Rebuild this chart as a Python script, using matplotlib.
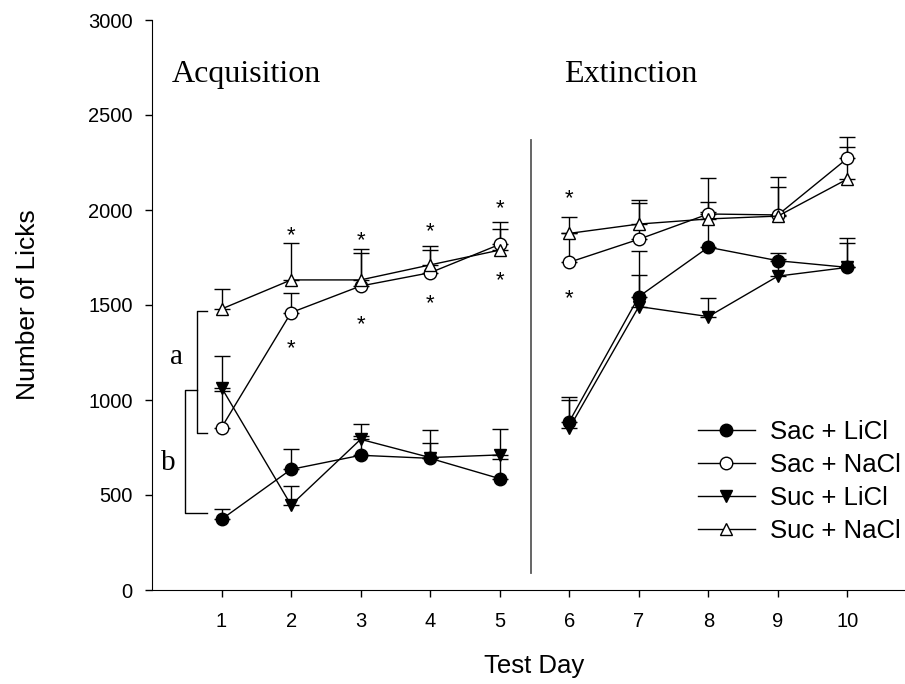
import numpy as np
import matplotlib
matplotlib.use('Agg')
import matplotlib.pyplot as plt

plt.rcParams['font.family'] = ['Liberation Sans', 'DejaVu Sans']

# 数据
days = [1, 2, 3, 4, 5, 6, 7, 8, 9, 10]
sac_licl = [372, 635, 709, 693, 586, 886, 1544, 1804, 1733, 1698]
sac_licl_sem = [53, 107, 101, 79, 104, 114, 240, 186, 39, 127]
sac_nacl = [855, 1460, 1600, 1670, 1819, 1725, 1846, 1979, 1974, 2272]
sac_nacl_sem = [190, 101, 175, 119, 119, 155, 192, 187, 198, 113]
suc_licl = [1065, 447, 793, 697, 711, 852, 1492, 1439, 1652, 1698]
suc_licl_sem = [168, 100, 79, 145, 136, 162, 166, 96, 88, 153]
suc_nacl = [1479, 1632, 1632, 1711, 1789, 1877, 1926, 1953, 1968, 2163]
suc_nacl_sem = [104, 193, 161, 99, 109, 84, 127, 91, 155, 167]

# 星号位置 (day, y)
star_days = [2, 2, 3, 3, 4, 4, 5, 5, 6, 6]
star_y = [1900, 1307, 1877, 1433, 1921, 1544, 2044, 1667, 2097, 1570]

groups = [
    ('Sac + LiCl', sac_licl, sac_licl_sem, 'o', 'black'),
    ('Sac + NaCl', sac_nacl, sac_nacl_sem, 'o', 'white'),
    ('Suc + LiCl', suc_licl, suc_licl_sem, 'v', 'black'),
    ('Suc + NaCl', suc_nacl, suc_nacl_sem, '^', 'white'),
]

fig = plt.figure(figsize=(9.05, 6.84), dpi=100)
ax = fig.add_axes([152 / 905, 94 / 684, (917 - 152) / 905, 570 / 684])

x = np.array(days)
for label, mean, sem, mk, fc in groups:
    mean = np.array(mean)
    sem = np.array(sem)
    for seg in (slice(0, 5), slice(5, 10)):
        ax.errorbar(x[seg], mean[seg], yerr=[np.zeros(5), sem[seg]],
                    fmt='none', ecolor='black', elinewidth=1.0,
                    capsize=5.5, capthick=1.0, zorder=1)
        ax.plot(x[seg], mean[seg], color='black', lw=1.0, marker=mk,
                markersize=9, markerfacecolor=fc, markeredgecolor='black',
                markeredgewidth=1.0, zorder=3,
                label=label if seg.start == 0 else None)

for d, yv in zip(star_days, star_y):
    ax.annotate('*', (d, yv), xytext=(0, -9), textcoords='offset points',
                ha='center', va='baseline', fontsize=16)

# 分隔线
ax.plot([5.45, 5.45], [90, 2370], color='0.35', lw=1.3, zorder=0)

# 括号 a / b
ax.plot([0.785, 0.64, 0.64, 0.785], [1468, 1468, 826, 826], color='black', lw=1.0)
ax.plot([0.64, 0.474, 0.474, 0.785], [1053, 1053, 404, 404], color='black', lw=1.0)
ax.text(0.355, 1228, 'a', family='Liberation Serif', fontsize=21,
        ha='center', va='center')
ax.text(0.235, 667, 'b', family='Liberation Serif', fontsize=21,
        ha='center', va='center')

ax.text(0.283, 2675, 'Acquisition', family='Liberation Serif', fontsize=23,
        ha='left', va='baseline')
ax.text(5.93, 2675, 'Extinction', family='Liberation Serif', fontsize=23,
        ha='left', va='baseline')

ax.set_xlim(0, 11)
ax.set_ylim(0, 3000)
ax.set_xticks(days)
ax.set_yticks(np.arange(0, 3001, 500))
ax.spines['top'].set_visible(False)
ax.spines['right'].set_visible(False)
ax.tick_params(direction='out', length=5, width=1.0, labelsize=14.5)
ax.tick_params(axis='x', pad=11)
ax.tick_params(axis='y', pad=9)

ax.set_xlabel('Test Day', fontsize=18.5)
ax.set_ylabel('Number of Licks', fontsize=19)
ax.xaxis.set_label_coords(0.5, -0.113)
ax.yaxis.set_label_coords(-0.146, 0.5)

ax.legend(loc='upper left', bbox_to_anchor=(698 / 905, 1 - 420 / 684),
          bbox_transform=fig.transFigure, frameon=False, fontsize=18.5,
          borderpad=0, borderaxespad=0, handlelength=2.2, handletextpad=0.6,
          labelspacing=0.35)

fig.savefig('out.png', dpi=100)
